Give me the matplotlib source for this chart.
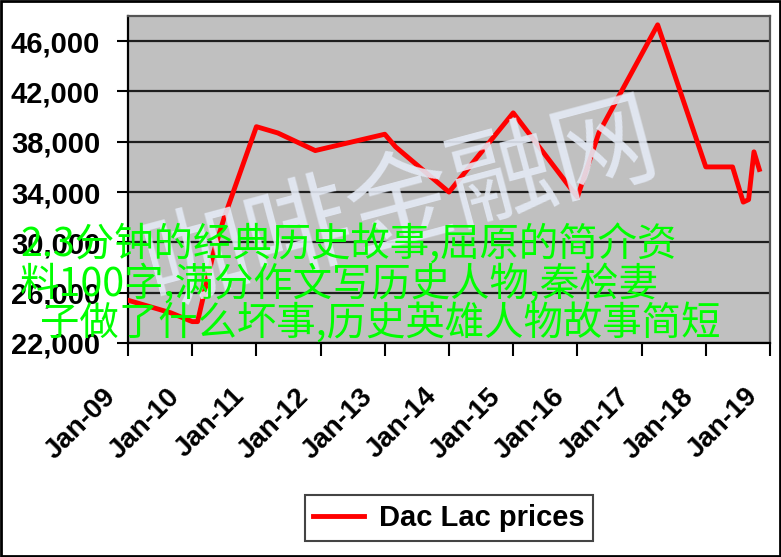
import matplotlib
matplotlib.use('Agg')
import matplotlib.pyplot as plt
from matplotlib.ticker import FuncFormatter
from matplotlib.patches import Rectangle
from matplotlib.transforms import ScaledTranslation

# Dac Lac prices
dates = ['2009-01', '2009-09', '2010-01', '2010-02', '2010-05', '2010-07',
         '2011-01', '2011-05', '2011-12', '2013-01', '2013-03', '2014-01',
         '2015-01', '2016-01', '2016-05', '2017-04', '2018-01', '2018-06',
         '2018-08', '2018-09', '2018-10', '2018-11']
prices = [25400, 24400, 23700, 23700, 29200, 32000,
          39200, 38700, 37300, 38600, 37600, 34000,
          40300, 33600, 38700, 47300, 36000, 36000,
          33200, 33400, 37200, 35800]

tick_labels = ['Jan-09', 'Jan-10', 'Jan-11', 'Jan-12', 'Jan-13', 'Jan-14',
               'Jan-15', 'Jan-16', 'Jan-17', 'Jan-18', 'Jan-19']
y_ticks = [22000, 26000, 30000, 34000, 38000, 42000, 46000]

overlay_lines = ['2.3分钟的经典历史故事,屈原的简介资',
                 '料100字,满分作文写历史人物,秦桧妻',
                 '子做了什么坏事,历史英雄人物故事简短']
watermark = '咖啡金融网'

# months since Jan-09
months = [(int(d[:4]) - 2009) * 12 + int(d[5:]) - 1 for d in dates]

W, H = 781, 557
fig = plt.figure(figsize=(W / 100, H / 100), dpi=100)
ax = fig.add_axes([128 / W, 1 - 343 / H, (770 - 128) / W, (343 - 16) / H])
ax.set_facecolor('#c0c0c0')

ax.plot(months, prices, color='red', lw=3.5, label='Dac Lac prices', zorder=3)

ax.set_xlim(0, 120)
ax.set_ylim(22000, 48000)
ax.set_yticks(y_ticks)
ax.yaxis.set_major_formatter(FuncFormatter(lambda v, p: f'{v:,.0f}'))
ax.set_xticks(range(0, 121, 12))
ax.set_xticklabels(tick_labels)

ax.grid(axis='y', color='#1e1e1e', lw=1.6)
ax.set_axisbelow(True)

for side in ['left', 'bottom']:
    ax.spines[side].set_color('black')
    ax.spines[side].set_linewidth(1.6)
for side in ['top', 'right']:
    ax.spines[side].set_color('#555555')
    ax.spines[side].set_linewidth(1.6)

ax.tick_params(axis='y', direction='out', length=8, width=1.5, pad=12)
ax.tick_params(axis='x', direction='out', length=9, width=1.5, pad=20)

for lbl in ax.get_yticklabels():
    lbl.set_fontfamily('Liberation Sans')
    lbl.set_fontweight('bold')
    lbl.set_fontsize(21)

shift = ScaledTranslation(-7 / 100, 0, fig.dpi_scale_trans)
for lbl in ax.get_xticklabels():
    lbl.set_fontfamily('Liberation Sans')
    lbl.set_fontweight('bold')
    lbl.set_fontsize(20)
    lbl.set_rotation(45)
    lbl.set_ha('right')
    lbl.set_va('top')
    lbl.set_transform(lbl.get_transform() + shift)

leg = fig.legend(loc='center', bbox_to_anchor=(449 / W, 1 - 518 / H),
                 prop={'family': 'Liberation Sans', 'weight': 'bold', 'size': 21},
                 handlelength=1.75, fancybox=False, framealpha=1,
                 edgecolor='#444444', borderpad=0.3, handletextpad=0.5)
leg.get_frame().set_linewidth(1.5)

# watermark and overlaid caption
fig.text(402 / W, 1 - 205 / H, watermark, rotation=15, fontsize=76,
         color='#e4eaf5', alpha=0.9, ha='center', va='center',
         family=['Noto Sans CJK SC', 'DejaVu Sans'], zorder=5)

cjk = ['Noto Sans CJK SC', 'DejaVu Sans']
line_x = [20, 20, 40]
line_y = [245, 284, 323]
for txt, lx, ly in zip(overlay_lines, line_x, line_y):
    fig.text(lx / W, 1 - ly / H, txt, color='#00ff00', fontsize=28.4,
             family=cjk, ha='left', va='center', zorder=10)

fig.add_artist(Rectangle((1 / W, 1 / H), 1 - 2 / W, 1 - 2 / H,
                         transform=fig.transFigure, fill=False,
                         edgecolor='black', lw=2))

fig.savefig('out.png', dpi=100)
